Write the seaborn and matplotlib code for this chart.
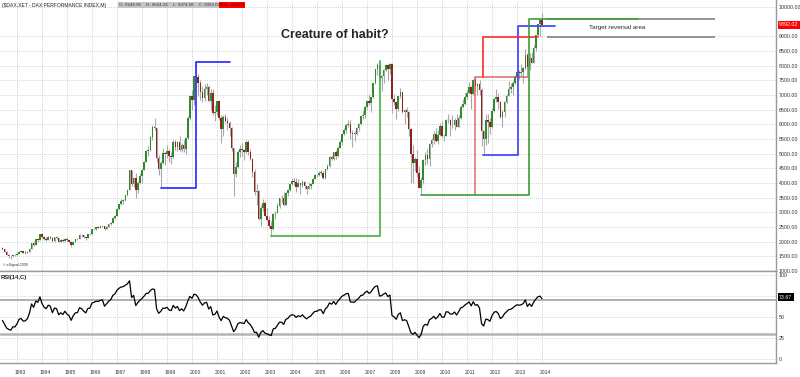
import numpy as np
import pandas as pd
import seaborn as sns
import matplotlib.pyplot as plt

# monthly closes Jan 1990 - May 1992, only used to warm up the RSI
warmup_close = [1800, 1720, 1850, 1860, 1890, 1920, 1950, 1610, 1410, 1440, 1420, 1400,
                1330, 1500, 1600, 1620, 1650, 1580, 1640, 1630, 1600, 1590, 1570, 1578,
                1700, 1750, 1720, 1740, 1795]

# DAX monthly bars, Jun 1992 - Jan 2014 (open = previous close)
close_ = [
    1735, 1655, 1560, 1525, 1500, 1550, 1545,
    1590, 1660, 1670, 1625, 1630, 1660, 1750, 1945, 1895, 2080, 2060, 2265,
    2150, 2080, 2050, 2160, 2140, 2010, 2150, 2135, 2000, 2055, 2015, 2105,
    2040, 2005, 1890, 2005, 2080, 2085, 2230, 2210, 2160, 2125, 2245, 2255,
    2420, 2445, 2485, 2480, 2520, 2535, 2440, 2510, 2590, 2640, 2815, 2890,
    3110, 3275, 3395, 3430, 3580, 3770, 4440, 3950, 4170, 3755, 4015, 4250,
    4440, 4710, 5100, 5110, 5565, 5900, 5875, 4835, 4475, 4670, 5010, 5000,
    5100, 4925, 4885, 5395, 5225, 5380, 5125, 5280, 5150, 5525, 6220, 6960,
    6835, 7645, 7600, 7415, 7110, 6900, 7190, 7280, 6800, 7080, 6370, 6435,
    6795, 6210, 5830, 6265, 6125, 6060, 5860, 5190, 4310, 4560, 5045, 5160,
    5110, 5040, 5400, 5040, 4820, 4380, 3700, 3710, 2770, 3150, 3320, 2890,
    2750, 2550, 2425, 2940, 2980, 3220, 3485, 3485, 3255, 3655, 3745, 3965,
    4060, 4020, 3860, 3985, 3920, 4050, 3895, 3785, 3890, 3960, 4125, 4255,
    4255, 4350, 4350, 4185, 4460, 4585, 4885, 4830, 5045, 4930, 5195, 5410,
    5675, 5795, 5970, 6010, 5690, 5685, 5680, 5860, 6005, 6270, 6310, 6595,
    6790, 6715, 6920, 7410, 7885, 8005, 7585, 7640, 7860, 8020, 7870, 8065,
    6850, 6750, 6535, 6950, 7095, 6420, 6480, 6420, 5830, 4990, 4670, 4810,
    4340, 3845, 4085, 4770, 4940, 4810, 5330, 5460, 5675, 5415, 5625, 5955,
    5610, 5600, 6155, 6135, 5965, 5965, 6150, 5925, 6230, 6600, 6690, 6915,
    7075, 7270, 7040, 7515, 7295, 7375, 7160, 5785, 5500, 6140, 6090, 5900,
    6460, 6855, 6945, 6760, 6265, 6415, 6770, 6970, 7215, 7260, 7405, 7610,
    7775, 7740, 7795, 7915, 8350, 7960, 8275, 8105, 8595, 9035, 9405, 9550,
    9392,
]
high_ = [
    1812, 1745, 1665, 1580, 1560, 1575, 1580,
    1605, 1685, 1720, 1690, 1665, 1680, 1770, 1960, 1975, 2095, 2110, 2275,
    2280, 2190, 2170, 2180, 2200, 2150, 2160, 2200, 2140, 2080, 2090, 2115,
    2120, 2070, 2010, 2020, 2100, 2120, 2250, 2260, 2240, 2170, 2260, 2290,
    2430, 2480, 2500, 2530, 2550, 2570, 2550, 2530, 2600, 2660, 2830, 2920,
    3120, 3300, 3440, 3460, 3600, 3800, 4440, 4450, 4200, 4350, 4080, 4330,
    4480, 4740, 5130, 5260, 5600, 5980, 6220, 5870, 4970, 4740, 5180, 5060,
    5290, 5150, 5050, 5460, 5460, 5420, 5590, 5350, 5460, 5530, 6270, 6990,
    7160, 7660, 8136, 7700, 7500, 7290, 7390, 7420, 7350, 7190, 7200, 6670,
    6800, 6840, 6300, 6330, 6350, 6200, 6100, 5900, 5200, 4700, 5120, 5280,
    5370, 5150, 5470, 5470, 5150, 4850, 4480, 3960, 3760, 3250, 3450, 3400,
    3160, 2870, 2700, 2990, 3040, 3320, 3500, 3580, 3680, 3680, 3800, 3980,
    4160, 4160, 4160, 4150, 3990, 4110, 4080, 3900, 4020, 3990, 4180, 4290,
    4320, 4410, 4440, 4400, 4480, 4640, 4910, 4970, 5060, 5140, 5250, 5460,
    5680, 5860, 6000, 6140, 6160, 5790, 5780, 5900, 6030, 6290, 6460, 6615,
    6800, 7030, 6940, 7410, 7900, 8090, 8151, 7690, 7900, 8060, 8070, 8100,
    8100, 7040, 6700, 6970, 7230, 7100, 6520, 6600, 6450, 5880, 5300, 4900,
    5110, 4590, 4190, 4810, 5040, 5160, 5370, 5540, 5760, 5890, 5810, 6030,
    6100, 5660, 6170, 6340, 6170, 6300, 6210, 6340, 6300, 6650, 6870, 7080,
    7180, 7440, 7300, 7530, 7600, 7400, 7500, 7230, 5800, 6350, 6360, 6200,
    6540, 6900, 7195, 7050, 6800, 6500, 6800, 7020, 7480, 7400, 7460, 7690,
    7870, 7860, 8070, 7950, 8560, 8420, 8430, 8470, 8690, 9050, 9420, 9600,
    9794,
]
low_ = [
    1720, 1640, 1535, 1455, 1420, 1490, 1520,
    1520, 1580, 1640, 1600, 1590, 1610, 1650, 1745, 1860, 1890, 2000, 2050,
    2140, 2040, 2030, 2040, 2100, 1990, 1995, 2100, 1985, 1980, 2000, 1990,
    2010, 1990, 1830, 1880, 1990, 2040, 2080, 2170, 2140, 2070, 2120, 2220,
    2250, 2400, 2410, 2460, 2460, 2500, 2400, 2430, 2500, 2580, 2640, 2780,
    2880, 3070, 3250, 3280, 3400, 3560, 3760, 3900, 3870, 3500, 3650, 3950,
    4000, 4430, 4700, 4930, 5090, 5460, 5820, 4700, 4280, 3830, 4640, 4600,
    4850, 4730, 4650, 4860, 5120, 5100, 5100, 5040, 5060, 5000, 5500, 6160,
    6500, 6660, 7300, 6950, 6830, 6750, 6800, 7000, 6750, 6480, 6300, 6110,
    6300, 6150, 5370, 5600, 6040, 5800, 5600, 5100, 3540, 4220, 4500, 4900,
    4920, 4770, 5030, 4970, 4800, 4200, 3600, 3250, 2750, 2520, 3050, 2870,
    2690, 2450, 2188, 2400, 2780, 2960, 3150, 3330, 3200, 3240, 3560, 3730,
    3930, 3930, 3690, 3850, 3640, 3880, 3800, 3620, 3790, 3810, 3950, 4120,
    4190, 4240, 4270, 4130, 4150, 4430, 4560, 4780, 4790, 4830, 4900, 5180,
    5300, 5630, 5700, 5900, 5510, 5240, 5440, 5630, 5770, 5990, 6170, 6200,
    6520, 6660, 6430, 6900, 7380, 7680, 7480, 7120, 7410, 7800, 7520, 7700,
    6380, 6650, 6170, 6440, 6910, 6370, 6000, 6250, 5600, 4010, 4010, 4400,
    4200, 3830, 3589, 3950, 4600, 4660, 4580, 5230, 5320, 5380, 5330, 5600,
    5540, 5430, 5600, 6060, 5610, 5890, 5820, 5900, 5900, 6190, 6560, 6660,
    6860, 7050, 6510, 6990, 7120, 6990, 7010, 5250, 4965, 5300, 5370, 5660,
    5890, 6430, 6750, 6520, 6220, 5910, 6260, 6740, 6950, 7080, 7000, 7380,
    7600, 7530, 7660, 7420, 7900, 7650, 7840, 8100, 8100, 8490, 9000, 9000,
    9374,
]
tick_years = list(range(1993, 2015))
price_ticks = [p for p in range(1000, 10001, 500) if p != 9500]  # 9500 sits under the last-price box

# bracket levels drawn on the chart (year, price)
blue1_x = [1998.75, 2000.16, 2000.16, 2001.52]
blue1_y = [3833, 3833, 8136, 8136]
green1_x = [2003.17, 2007.5, 2007.5]
green1_y = [2188, 2188, 8151]
green2_x = [2009.17, 2013.48, 2013.48, 2017.84]
green2_y = [3589, 3589, 9600, 9600]
red1_x = [2011.32, 2011.32, 2013.44]
red1_y = [3589, 7600, 7600]
red2_x = [2011.64, 2011.64, 2013.84]
red2_y = [7600, 8980, 8980]
blue2_x = [2011.64, 2013.04, 2013.04, 2014.52]
blue2_y = [4965, 4965, 9353, 9353]
target_levels = [9600, 8980]

# ---- build frame
months = pd.date_range('1992-06-01', periods=len(close_), freq='MS')
df = pd.DataFrame({'close': close_, 'high': high_, 'low': low_})
df['open'] = [warmup_close[-1]] + close_[:-1]
df['x'] = months.year + (months.month - 1) / 12

# Wilder RSI(14)
allc = pd.Series(warmup_close + close_, dtype=float)
d = allc.diff()
gain = d.clip(lower=0).ewm(alpha=1 / 14, adjust=False).mean()
loss = (-d.clip(upper=0)).ewm(alpha=1 / 14, adjust=False).mean()
df['rsi'] = (100 - 100 / (1 + gain / loss)).iloc[len(warmup_close):].values

sns.set_style('white')
plt.rcParams['font.family'] = ['Liberation Sans', 'DejaVu Sans']

W, H = 800, 377
fig = plt.figure(figsize=(W / 100, H / 100), dpi=100)
ax = fig.add_axes([0, 1 - 271 / H, 776 / W, 271 / H])
ax_rsi = fig.add_axes([0, 1 - 363 / H, 776 / W, 92 / H])

xmin, xmax = 1993 - 17 / 25, 1993 + 759 / 25
grid_kw = dict(color='#c4c4c4', linestyle=(0, (1, 1.5)), linewidth=0.6)

for a in (ax, ax_rsi):
    a.set_xlim(xmin, xmax)
    a.set_xticks(tick_years, minor=True)
    a.grid(which='minor', axis='x', **grid_kw)
    a.grid(which='major', axis='y', **grid_kw)
    a.yaxis.tick_right()
    a.tick_params(axis='y', length=0, pad=2, labelsize=3.8, labelcolor='#333333')
    a.tick_params(axis='x', which='both', length=0)
    a.spines['left'].set_visible(False)
    for s in ('right', 'bottom', 'top'):
        a.spines[s].set_color('#9a9a9a')
        a.spines[s].set_linewidth(1)
    a.set_axisbelow(True)
ax.spines['top'].set_visible(False)

# ---- candles
ax.set_ylim(1000, 1000 + 271 / 0.02934)
ax.set_yticks(price_ticks)
ax.set_yticklabels([f'{v:.2f}' for v in price_ticks])
ax.set_xticks([])
ax.vlines(df['x'], df['low'], df['high'], color='#a9a9a9', lw=0.8, zorder=2)
up = df['close'] >= df['open']
body_lo = np.minimum(df['open'], df['close'])
body_h = (df['close'] - df['open']).abs().clip(lower=15)
ax.bar(df['x'][up], body_h[up], bottom=body_lo[up], width=0.065,
       color='#2e8b2e', lw=0, zorder=3)
ax.bar(df['x'][~up], body_h[~up], bottom=body_lo[~up], width=0.065,
       color='#8e2323', lw=0, zorder=3)

# ---- brackets
ax.plot(blue1_x, blue1_y, color='#3535ff', lw=1.3, zorder=4)
ax.plot(green1_x, green1_y, color='#4caf4c', lw=1.5, alpha=0.85, zorder=4)
ax.plot(red1_x, red1_y, color='#d83a3a', lw=1.3, alpha=0.65, zorder=4)
ax.plot(green2_x, green2_y, color='#3a9e3a', lw=1.2, zorder=5)
ax.plot(blue2_x, blue2_y, color='#4a4aff', lw=1.3, zorder=4)
ax.plot(red2_x, red2_y, color='#ff2a2a', lw=1.2, zorder=4)
ax.hlines(target_levels, 2014.2, 2020.92, color='#8c8c8c', lw=1.3, zorder=3)
ax.text(2017.0, 9290, 'Target reversal area', fontsize=4.6, ha='center', va='center')

ax.text(1.004, 9392, '9392.02', transform=ax.get_yaxis_transform(), fontsize=3.8,
        color='white', va='center', ha='left',
        bbox=dict(boxstyle='square,pad=0.25', fc='#ff0000', ec='none'))

# ---- RSI
sns.lineplot(x=df['x'], y=df['rsi'], ax=ax_rsi, color='black', lw=0.9)
ax_rsi.set_ylim(-4.8, 104.8)
ax_rsi.set_yticks([0, 25, 50, 75, 100])
ax_rsi.set_yticklabels(['0', '25', '50', '75', '100'])
ax_rsi.axhline(70, color='#a2a2a2', lw=1.2, zorder=1)
ax_rsi.axhline(30, color='#b4b4b4', lw=1.8, zorder=1)
ax_rsi.set_xlabel('')
ax_rsi.set_ylabel('')
ax_rsi.set_xticks([y + 0.14 for y in tick_years])
ax_rsi.set_xticklabels([str(y) for y in tick_years], fontsize=3.6, color='#333333')
ax_rsi.tick_params(axis='x', pad=5)
ax_rsi.text(1.004, 73.67, '73.67', transform=ax_rsi.get_yaxis_transform(), fontsize=3.8,
            color='white', va='center', ha='left',
            bbox=dict(boxstyle='square,pad=0.25', fc='black', ec='none'))

# ---- header texts
fig.text(2 / W, 1 - 5 / H, '($DAX.XET - DAX PERFORMANCE INDEX,M)', fontsize=3.6,
         va='center', color='#222222')
fig.text(119 / W, 1 - 5 / H, 'O: 9646.85    H: 9664.24    L: 9374.08    C: 9392.02',
         fontsize=3.2, va='center', color='#333333',
         bbox=dict(boxstyle='square,pad=0.3', fc='#c6c6c6', ec='none'))
fig.text(220 / W, 1 - 5 / H, 'Net: -239.02', fontsize=3.2, va='center', color='#550000',
         bbox=dict(boxstyle='square,pad=0.3', fc='#ff0000', ec='none'))
fig.text(335 / W, 1 - 35 / H, 'Creature of habit?', fontsize=9, fontweight='bold',
         ha='center', va='center')
fig.text(3 / W, 1 - 265 / H, '© eSignal,2009', fontsize=2.6, va='center', color='#333333')
fig.text(1 / W, 1 - 278 / H, 'RSI(14,C)', fontsize=4.2, fontweight='bold', va='center',
         color='#222222')

fig.savefig('out.png', dpi=100, facecolor='white')
